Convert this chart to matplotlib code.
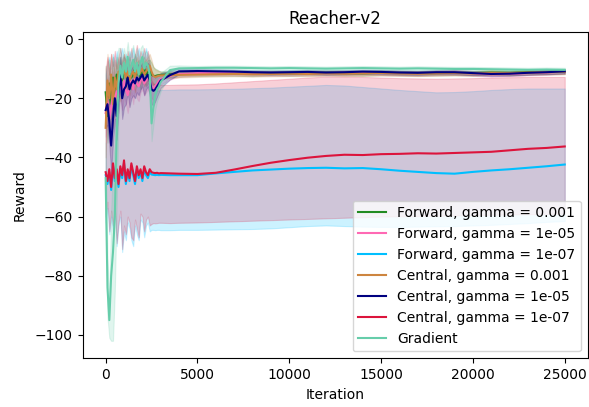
import numpy as np
import matplotlib
matplotlib.use("Agg")
import matplotlib.pyplot as plt

# iteration grid: dense over the noisy start, coarser once runs settle
iterations = np.concatenate(
    [np.arange(0, 3001, 100), [3500, 4000], np.arange(5000, 25001, 1000)]
)

labels = [
    "Forward, gamma = 0.001",
    "Forward, gamma = 1e-05",
    "Forward, gamma = 1e-07",
    "Central, gamma = 0.001",
    "Central, gamma = 1e-05",
    "Central, gamma = 1e-07",
    "Gradient",
]
colors = [
    "forestgreen",
    "hotpink",
    "deepskyblue",
    "peru",
    "navy",
    "crimson",
    "mediumaquamarine",
]

fwd_1e3_mean = [
    -18, -26, -15, -22, -13, -19, -12, -16, -12, -14, -11, -12, -14, -11, -13, -12,
    -10, -12, -11, -13, -11, -10, -12, -11, -11, -12, -12.4, -12.5, -12.3, -12.2, -12.1,
    -11.9, -11.8,
    -11.7, -11.6, -11.6, -11.7, -11.5, -11.6, -11.5, -11.4, -11.5, -11.6, -11.4,
    -11.5, -11.6, -11.5, -11.4, -11.5, -11.3, -11.4, -11.2, -11.1, -11.0,
]
fwd_1e3_std = [
    9, 9, 8, 7, 7, 6, 6, 5, 6, 5, 5, 5, 4, 5, 4, 4, 5, 4, 4, 4, 4, 4, 4, 4, 4, 4,
    3, 2.5, 2, 1.5, 1.2,
    1, 0.9,
    0.8, 0.8, 0.8, 0.8, 0.8, 0.8, 0.8, 0.8, 0.8, 0.8, 0.8,
    0.8, 0.8, 0.8, 0.8, 0.8, 0.8, 0.8, 0.8, 0.8, 0.8,
]

fwd_1e5_mean = [
    -25, -20, -27, -23, -18, -21, -17, -19, -15, -18, -14, -17, -19, -16, -14, -17,
    -13, -15, -16, -14, -13, -15, -14, -13, -14, -16, -17, -16, -15, -14, -13.5,
    -12.5, -11.8,
    -11.5, -11.4, -11.4, -11.5, -11.6, -11.5, -11.4, -11.5, -11.4, -11.3, -11.4,
    -11.5, -11.6, -11.4, -11.3, -11.6, -11.9, -11.8, -11.5, -11.3, -11.0,
]
fwd_1e5_std = [
    8, 7, 8, 6, 7, 6, 5, 6, 5, 6, 5, 5, 6, 5, 4, 5, 4, 5, 5, 4, 4, 4, 4, 4, 4, 4,
    3.5, 3, 2.5, 2, 1.8,
    1.2, 1,
    0.8, 0.8, 0.8, 0.8, 0.8, 0.8, 0.8, 0.8, 0.8, 0.8, 0.8,
    0.8, 0.8, 0.8, 0.8, 0.8, 0.8, 0.8, 0.8, 0.8, 0.8,
]

fwd_1e7_mean = [
    -46, -49, -45, -51, -43, -48, -45, -50, -44, -47, -42, -49, -45, -48, -43, -46,
    -49, -44, -47, -45, -48, -44, -46, -47, -45, -45.8, -45.9, -46.0, -45.9, -46.0, -45.9,
    -46.0, -46.0,
    -46.0, -45.4, -44.9, -44.4, -44.1, -43.8, -43.6, -43.5, -43.7, -43.6, -44.0,
    -44.5, -44.9, -45.3, -45.5, -44.9, -44.4, -44.0, -43.5, -43.0, -42.4,
]
fwd_1e7_lo = [
    -62, -57, -66, -60, -65, -58, -70, -63, -60, -72, -65, -68, -62, -64, -68, -70,
    -63, -66, -68, -61, -62, -67, -63, -62, -65, -64.5, -64.5, -64.6, -64.5, -64.5, -64.6,
    -64.6, -64.5,
    -64.5, -64.4, -64.3, -64.2, -64.0, -63.6, -63.2, -63.0, -63.2, -63.4, -63.5,
    -63.5, -63.4, -63.3, -63.2, -63.0, -62.8, -62.5, -62.2, -61.8, -61.5,
]
fwd_1e7_hi = [
    -12, -8, -6, -10, -5, -9, -4, -8, -6, -3, -7, -5, -9, -4, -6, -3,
    -7, -5, -3, -8, -4, -6, -3, -6, -9, -16, -17.5, -17.5, -17.4, -17.3, -17.2,
    -17.1, -17.0,
    -17.0, -16.9, -16.8, -16.6, -16.4, -16.1, -15.8, -15.5, -15.7, -16.2, -16.7,
    -17.2, -17.6, -18.0, -17.9, -17.6, -17.2, -16.9, -16.7, -16.7, -16.7,
]

cen_1e3_mean = [
    -30, -14, -20, -12, -22, -13, -17, -11, -15, -12, -10, -13, -11, -14, -12, -11,
    -13, -10, -12, -11, -10, -12, -11, -10, -9, -11, -12.5, -12.8, -12.6, -12.4, -12.3,
    -12.2, -12.1,
    -12.0, -11.9, -11.8, -11.9, -11.8, -11.7, -11.8, -11.6, -11.7, -11.6, -11.5,
    -11.6, -11.7, -11.6, -11.5, -11.6, -11.4, -11.5, -11.3, -11.2, -11.1,
]
cen_1e3_std = [
    10, 9, 8, 7, 8, 6, 7, 5, 6, 5, 5, 5, 4, 5, 4, 4, 5, 4, 4, 4, 4, 4, 4, 4, 4, 4,
    3, 2.5, 2, 1.5, 1.2,
    1, 0.9,
    0.8, 0.8, 0.8, 0.8, 0.8, 0.8, 0.8, 0.8, 0.8, 0.8, 0.8,
    0.8, 0.8, 0.8, 0.8, 0.8, 0.8, 0.8, 0.8, 0.8, 0.8,
]

cen_1e5_mean = [
    -24, -22, -28, -36, -27, -20, -26, -18, -11, -20, -17, -16, -13, -17, -15, -14,
    -15, -13, -14, -13, -12, -14, -13, -12, -14, -17, -17.5, -17, -16, -15, -14,
    -12.2, -10.9,
    -10.8, -10.9, -11.0, -11.2, -11.3, -11.2, -11.1, -11.3, -11.2, -11.0, -11.1,
    -11.3, -11.4, -11.2, -11.2, -11.5, -11.8, -11.7, -11.4, -11.2, -10.9,
]
cen_1e5_std = [
    6, 7, 8, 9, 8, 7, 8, 6, 5, 7, 6, 6, 5, 6, 5, 5, 5, 5, 5, 4, 4, 5, 4, 4, 5, 5,
    5, 4, 3.5, 3, 2.5,
    1.5, 1,
    0.7, 0.7, 0.7, 0.7, 0.7, 0.7, 0.7, 0.7, 0.7, 0.7, 0.7,
    0.7, 0.7, 0.7, 0.7, 0.7, 0.7, 0.7, 0.7, 0.7, 0.7,
]

cen_1e7_mean = [
    -45, -48, -44, -50, -42, -47, -44, -49, -43, -46, -41, -48, -44, -47, -42, -45,
    -48, -43, -46, -44, -47, -43, -45, -46, -44, -45, -45.2, -45.3, -45.2, -45.4, -45.3,
    -45.4, -45.5,
    -45.6, -45.2, -44.1, -42.9, -41.8, -40.9, -40.1, -39.5, -39.1, -39.2, -38.9,
    -38.8, -38.6, -38.7, -38.5, -38.3, -38.1, -37.6, -37.1, -36.8, -36.3,
]
cen_1e7_lo = [
    -60, -55, -65, -58, -63, -56, -69, -62, -58, -71, -63, -66, -60, -62, -67, -68,
    -61, -64, -67, -59, -60, -65, -61, -60, -63, -62.5, -62.2, -62.3, -62.2, -62.1, -62.1,
    -62.2, -62.1,
    -62.0, -61.8, -61.6, -61.4, -61.2, -61.0, -60.8, -60.6, -60.4, -60.2, -60.0,
    -59.9, -59.8, -59.7, -59.6, -59.5, -59.4, -59.3, -59.2, -59.1, -59.0,
]
cen_1e7_hi = [
    -10, -6, -12, -5, -9, -4, -10, -6, -3, -8, -5, -9, -4, -7, -3, -8,
    -5, -2, -7, -4, -6, -3, -7, -4, -8, -14, -15, -15.2, -15.3, -15.4, -15.5,
    -15.5, -15.4,
    -15.3, -15.0, -14.6, -14.2, -13.8, -13.4, -13.0, -12.7, -12.7, -12.8, -13.0,
    -13.2, -13.3, -13.4, -13.3, -13.2, -13.0, -12.9, -12.8, -12.8, -12.8,
]

grad_mean = [
    -47, -84, -95, -80, -72, -60, -32, -15, -9, -13, -8, -11, -6, -12, -9, -7,
    -11, -8, -12, -8, -6, -10, -8, -9, -12, -28.5, -23, -19, -17, -16, -14.5,
    -10.5, -9.9,
    -9.8, -9.7, -9.7, -9.8, -9.9, -9.8, -9.9, -10.0, -9.9, -9.8, -9.9,
    -10.0, -9.9, -10.0, -10.1, -10.1, -10.2, -10.3, -10.4, -10.3, -10.4,
]
grad_std = [
    12, 10, 6, 22, 30, 25, 25, 12, 6, 5, 5, 5, 5, 6, 5, 5, 5, 5, 5, 5, 4, 5, 4, 4, 5, 6,
    6, 5, 4, 3.5, 3,
    1.5, 1,
    0.7, 0.7, 0.7, 0.7, 0.7, 0.7, 0.7, 0.7, 0.7, 0.7, 0.7,
    0.7, 0.7, 0.7, 0.7, 0.7, 0.7, 0.7, 0.7, 0.7, 0.7,
]

means = [
    fwd_1e3_mean, fwd_1e5_mean, fwd_1e7_mean,
    cen_1e3_mean, cen_1e5_mean, cen_1e7_mean, grad_mean,
]
bands = [
    (np.subtract(fwd_1e3_mean, fwd_1e3_std), np.add(fwd_1e3_mean, fwd_1e3_std)),
    (np.subtract(fwd_1e5_mean, fwd_1e5_std), np.add(fwd_1e5_mean, fwd_1e5_std)),
    (fwd_1e7_lo, fwd_1e7_hi),
    (np.subtract(cen_1e3_mean, cen_1e3_std), np.add(cen_1e3_mean, cen_1e3_std)),
    (np.subtract(cen_1e5_mean, cen_1e5_std), np.add(cen_1e5_mean, cen_1e5_std)),
    (cen_1e7_lo, cen_1e7_hi),
    (np.subtract(grad_mean, grad_std), np.add(grad_mean, grad_std)),
]

fig = plt.figure(figsize=(5.89, 4.07), dpi=100)
ax = fig.add_axes([0.1404, 0.1197, 0.8574, 0.801])

for (lo, hi), color in zip(bands, colors):
    ax.fill_between(iterations, lo, hi, color=color, alpha=0.2, linewidth=0.8)
for mean, color, label in zip(means, colors, labels):
    ax.plot(iterations, mean, color=color, label=label, linewidth=1.5)

ax.set_xlim(-1250, 26250)
ax.set_ylim(-107.9, 2.3)
ax.set_title(label="Reacher-v2", fontsize=12)
ax.set_xlabel(xlabel="Iteration")
ax.set_ylabel(ylabel="Reward", labelpad=6)
ax.legend(loc="lower right")

fig.savefig("out.png", dpi=100)
plt.close("all")
